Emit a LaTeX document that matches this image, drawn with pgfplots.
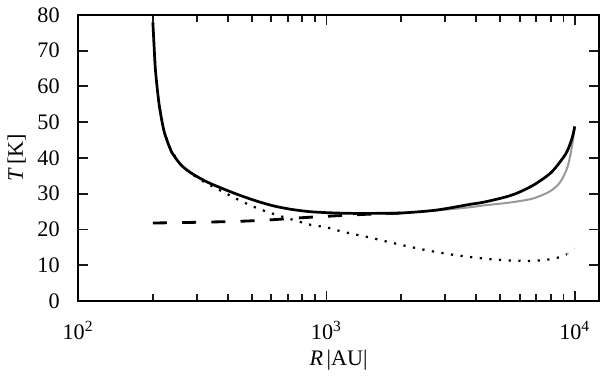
\documentclass[border=0pt]{standalone}
\usepackage{fontspec}
\setmainfont{Liberation Serif}
\usepackage{pgfplots}
\pgfplotsset{compat=1.18}
\definecolor{lgrey}{gray}{0.6}
\definecolor{tickc}{gray}{0.1}

\begin{document}
\fontsize{11}{13}\selectfont
\begin{tikzpicture}
\begin{semilogxaxis}[
  scale only axis, width=258.5pt, height=142pt,
  xmin=100, xmax=12520, ymin=0, ymax=80,
  ytick={0,10,...,80},
  xtick={100,1000,10000},
  minor xtick={200,300,400,500,600,700,800,900,2000,3000,4000,5000,6000,7000,8000,9000},
  xticklabels={10\textsuperscript{2},10\textsuperscript{3},10\textsuperscript{4}},
  major tick length=5pt, minor tick length=3.5pt,
  tick style={draw=tickc, line width=0.9pt},
  line width=1pt,
  xticklabel shift=6pt, yticklabel shift=5pt,
  yticklabel style={/pgf/number format/assume math mode=true},
  xlabel={\textit{R}\,|AU|}, ylabel={\textit{T}\,[K]},
  xlabel style={yshift=3pt}, ylabel style={yshift=-2pt},
]
% dotted
\addplot[black, line width=1.1pt, dash pattern=on 1.1pt off 3.7pt] coordinates {
(200,77.9) (202,72) (205,64.3) (212,54.9) (222,47.4) (236,42.2) (260,37.8)
(285,35.6) (330,32.8) (389,30.3) (450,28.0) (531,25.8) (640,23.9) (725,22.8)
(847,21.4) (1000,20.6) (1156,19.4) (1483,17.8) (1800,16.4) (2024,15.6)
(2400,14.5) (2760,13.7) (3250,12.9) (3773,12.3) (4550,11.7) (5480,11.3)
(6550,11.2) (7150,11.3) (7840,11.6) (8530,12.1) (9310,13.1)};
\addplot[lgrey!60, line width=1pt, dash pattern=on 1pt off 3.5pt] coordinates {
(9310,13.1) (10000,14.7)};
% dashed
\addplot[black, line width=1.4pt, dash pattern=on 7pt off 7.5pt, smooth] coordinates {
(200,21.8) (300,22.0) (454,22.3) (600,22.7) (725,23.1) (900,23.5) (1156,23.9)
(1400,24.2) (1700,24.4) (2000,24.6)};
% grey solid
\addplot[lgrey, line width=1pt, smooth] coordinates {
(1578,24.5) (2000,24.6) (2760,25.3) (3773,26.2) (4276,26.7) (5150,27.3)
(5830,27.8) (6820,28.7) (7970,30.7) (8750,33.3) (9310,37.1) (9600,40.8)
(9860,45.5) (10000,48.8)};
% black solid
\addplot[black, line width=1.35pt, smooth] coordinates {
(200,77.9) (202,72) (205,64.3) (212,54.9) (222,47.4) (236,42.2) (244,40.5)
(260,38.0) (285,35.8) (330,33.3) (389,31.2) (450,29.5) (531,27.8) (620,26.5)
(725,25.6) (850,25.0) (1000,24.7) (1250,24.5) (1578,24.5) (2000,24.6)
(2760,25.4) (3773,27.0) (4276,27.6) (5150,28.9) (5830,30.1) (6820,32.4)
(7970,35.7) (8750,39.0) (9310,41.8) (9750,45.5) (10000,48.8)};
\end{semilogxaxis}
\end{tikzpicture}
\end{document}
